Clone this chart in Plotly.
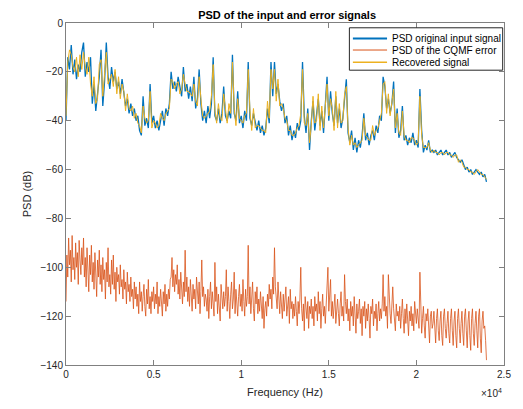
import numpy as np
import plotly.graph_objects as go

# ---------------- data ----------------
freq_in = np.linspace(0, 24000, 241)     # 100 Hz grid
freq_err = np.linspace(0, 24000, 481)    # 50 Hz grid

psd_input = [
    -40, -14, -19, -9, -21, -15, -23, -17, -20, -12,
    -8, -22, -16, -20, -14, -33, -25, -36, -29, -22,
    -11, -34, -24, -8, -22, -27, -18, -24, -20, -27,
    -24, -29, -23, -30, -34, -31, -37, -33, -38, -35,
    -40, -38, -44, -46, -30, -42, -39, -43, -25, -41,
    -38, -43, -40, -44, -39, -36, -42, -35, -38, -33,
    -20, -27, -24, -28, -22, -26, -30, -18, -28, -25,
    -31, -26, -32, -22, -35, -31, -19, -33, -40, -36,
    -41, -34, -39, -33, -14, -38, -40, -35, -41, -37,
    -26, -38, -40, -36, -39, -13, -37, -40, -28, -41,
    -38, -43, -36, -40, -16, -39, -42, -37, -41, -44,
    -40, -45, -42, -46, -43, -35, -41, -16, -30, -16,
    -29, -25, -32, -36, -33, -41, -38, -46, -42, -48,
    -44, -47, -41, -44, -40, -16, -38, -45, -35, -52,
    -40, -32, -44, -38, -31, -42, -36, -45, -33, -22,
    -40, -28, -37, -42, -30, -41, -35, -43, -39, -31,
    -23, -45, -49, -44, -52, -47, -53, -48, -51, -46,
    -37, -48, -45, -50, -46, -44, -48, -42, -45, -38,
    -40, -22, -26, -35, -31, -37, -33, -24, -45, -35,
    -47, -44, -34, -48, -46, -50, -47, -49, -45, -50,
    -48, -51, -27, -44, -53, -50, -52, -48, -53, -52,
    -53, -52, -54, -53, -52, -54, -53, -52, -54, -53,
    -55, -54, -53, -55, -56, -57, -56, -58, -60, -59,
    -61, -60, -62, -61, -60, -61, -62, -61, -63, -62,
    -65,
]

psd_recovered = [
    -38, -16, -11, -13, -18, -20, -14, -22, -13, -19,
    -12, -18, -21, -14, -25, -30, -22, -33, -31, -17,
    -15, -30, -21, -12, -25, -23, -21, -26, -19, -29,
    -22, -31, -25, -28, -36, -29, -35, -36, -34, -39,
    -37, -41, -42, -45, -34, -39, -41, -40, -28, -43,
    -40, -41, -43, -42, -37, -39, -40, -37, -36, -35,
    -23, -24, -27, -25, -24, -29, -27, -21, -25, -28,
    -28, -29, -30, -25, -32, -34, -22, -31, -38, -39,
    -38, -37, -36, -30, -17, -36, -41, -33, -39, -40,
    -29, -35, -41, -33, -37, -16, -35, -42, -31, -39,
    -40, -41, -38, -37, -19, -36, -44, -35, -43, -42,
    -42, -43, -44, -44, -45, -32, -39, -19, -27, -19,
    -32, -23, -34, -33, -35, -39, -40, -44, -44, -46,
    -46, -45, -43, -42, -37, -19, -41, -42, -37, -49,
    -42, -30, -41, -40, -29, -44, -34, -43, -35, -25,
    -38, -31, -35, -44, -28, -43, -33, -41, -40, -29,
    -26, -43, -50, -46, -50, -49, -51, -50, -49, -48,
    -39, -46, -47, -48, -48, -42, -46, -44, -43, -40,
    -37, -25, -24, -37, -29, -38, -31, -27, -43, -37,
    -45, -46, -36, -46, -48, -48, -49, -47, -47, -48,
    -50, -49, -30, -46, -51, -51, -51, -49, -52, -53,
    -52, -53, -53, -54, -53, -53, -54, -53, -53, -54,
    -54, -55, -54, -54, -57, -56, -57, -59, -59, -60,
    -60, -61, -61, -62, -61, -60, -61, -62, -62, -63,
    -64,
]

psd_error = [
    -114, -95, -104, -88, -99, -93, -106, -87, -101, -96, -105, -90, -100, -94, -107, -89, -97, -103, -92, -99,
    -88, -104, -96, -108, -92, -100, -110, -95, -103, -91, -106, -98, -109, -94, -102, -112, -97, -104, -93, -107,
    -99, -110, -96, -105, -101, -113, -98, -106, -92, -108, -103, -111, -97, -107, -95, -109, -102, -114, -100, -106,
    -103, -111, -99, -108, -105, -113, -101, -109, -106, -115, -102, -110, -107, -114, -104, -112, -109, -117, -106, -113,
    -108, -116, -111, -119, -106, -114, -110, -118, -112, -107, -116, -120, -109, -115, -105, -117, -112, -119, -110, -114,
    -108, -117, -111, -115, -106, -119, -112, -116, -109, -114, -120, -110, -115, -107, -118, -111, -116, -109, -113, -105,
    -104, -96, -108, -101, -110, -103, -107, -99, -111, -105, -113, -102, -109, -115, -106, -112, -93, -110, -104, -114,
    -108, -116, -105, -112, -118, -107, -113, -109, -117, -104, -111, -115, -106, -119, -110, -97, -112, -108, -116, -111,
    -113, -118, -109, -121, -112, -106, -117, -110, -115, -120, -98, -114, -108, -119, -111, -116, -122, -107, -113, -117,
    -110, -116, -112, -101, -118, -108, -114, -121, -111, -106, -117, -113, -102, -119, -109, -115, -120, -112, -107, -116,
    -111, -118, -105, -114, -120, -109, -116, -112, -91, -115, -108, -119, -113, -106, -117, -122, -110, -115, -108, -119,
    -113, -118, -110, -116, -121, -112, -125, -117, -114, -120, -111, -116, -107, -113, -109, -117, -104, -111, -92, -108,
    -112, -117, -106, -114, -119, -110, -116, -121, -111, -118, -113, -108, -120, -115, -112, -123, -109, -117, -114, -121,
    -115, -120, -112, -118, -124, -114, -119, -113, -100, -117, -122, -115, -126, -112, -118, -121, -114, -125, -116, -119,
    -113, -121, -116, -124, -112, -118, -115, -122, -110, -119, -114, -125, -117, -111, -120, -116, -123, -113, -108, -100,
    -118, -112, -105, -120, -114, -121, -116, -111, -123, -117, -113, -119, -124, -115, -110, -120, -116, -122, -103, -114,
    -119, -113, -122, -117, -126, -114, -120, -116, -124, -112, -119, -127, -115, -121, -118, -113, -123, -117, -128, -116,
    -120, -114, -125, -117, -122, -115, -121, -129, -116, -119, -113, -124, -118, -121, -115, -126, -119, -114, -122, -117,
    -121, -115, -103, -118, -112, -120, -116, -125, -103, -114, -119, -123, -113, -108, -117, -121, -126, -115, -120, -118,
    -122, -116, -125, -119, -113, -121, -127, -117, -123, -115, -120, -128, -118, -122, -116, -124, -119, -126, -114, -121,
    -123, -117, -120, -125, -102, -118, -127, -121, -116, -124, -129, -119, -122, -117, -126, -131, -120, -118, -125, -123,
    -118, -127, -131, -121, -117, -126, -130, -122, -118, -128, -132, -120, -117, -125, -129, -123, -118, -127, -131, -121,
    -117, -126, -132, -122, -118, -128, -133, -121, -117, -125, -131, -123, -118, -127, -132, -120, -117, -126, -133, -122,
    -118, -128, -134, -121, -117, -127, -132, -123, -118, -126, -133, -120, -117, -129, -135, -122, -118, -125, -124, -130,
    -138,
]

x_tick_vals = [0, 5000, 10000, 15000, 20000, 25000]
x_tick_text = ["0", "0.5", "1", "1.5", "2", "2.5"]
y_tick_vals = [0, -20, -40, -60, -80, -100, -120, -140]

series_names = ["PSD original input signal", "PSD of the CQMF error", "Recovered signal"]

# ---------------- figure ----------------
BLUE = "#0072BD"
ORANGE = "#D95319"
YELLOW = "#EDB120"
AX = "#808080"
TXT = "#262626"
FONT = "Liberation Sans, Arial, sans-serif"

fig = go.Figure()
fig.add_trace(go.Scatter(x=freq_in, y=psd_input, mode="lines", name=series_names[0],
                         line=dict(color=BLUE, width=1.3), showlegend=False))
fig.add_trace(go.Scatter(x=freq_err, y=psd_error, mode="lines", name=series_names[1],
                         line=dict(color=ORANGE, width=0.8), showlegend=False))
fig.add_trace(go.Scatter(x=freq_in, y=psd_recovered, mode="lines", name=series_names[2],
                         line=dict(color=YELLOW, width=1.0), showlegend=False))

axis_common = dict(
    showgrid=False, zeroline=False, showline=True, linecolor=AX, linewidth=1,
    mirror="ticks", ticks="inside", ticklen=5, tickcolor=AX, tickwidth=1,
    tickfont=dict(family=FONT, size=10, color=TXT),
)

fig.update_layout(
    width=523, height=409,
    margin=dict(l=66, r=15, t=23, b=38),
    paper_bgcolor="white", plot_bgcolor="white",
    font=dict(family=FONT, color=TXT),
    title=dict(text="<b>PSD of the input and error signals</b>", x=0.549, xanchor="center",
               y=0.963, yanchor="middle", font=dict(family=FONT, size=11, color="black")),
    xaxis=dict(range=[0, 25000], tickvals=x_tick_vals, ticktext=x_tick_text,
               title=dict(text="Frequency (Hz)", font=dict(family=FONT, size=11, color=TXT), standoff=9),
               **axis_common),
    yaxis=dict(range=[-140, 0], tickvals=y_tick_vals,
               title=dict(text="PSD (dB)", font=dict(family=FONT, size=11, color=TXT), standoff=6),
               **axis_common),
    showlegend=False,
)

# ---- MATLAB-style legend box (drawn in paper coordinates) ----
leg_x0, leg_x1 = 0.647, 0.997
leg_y0, leg_y1 = 0.862, 0.986
fig.add_shape(type="rect", xref="paper", yref="paper", x0=leg_x0, x1=leg_x1, y0=leg_y0, y1=leg_y1,
              line=dict(color=TXT, width=1), fillcolor="white", layer="above")
leg_rows = [0.955, 0.921, 0.885]
leg_colors = [BLUE, ORANGE, YELLOW]
leg_widths = [2.0, 1.0, 1.5]
for name, yy, col, w in zip(series_names, leg_rows, leg_colors, leg_widths):
    fig.add_shape(type="line", xref="paper", yref="paper", x0=0.655, x1=0.733, y0=yy, y1=yy,
                  line=dict(color=col, width=w), layer="above")
    fig.add_annotation(text=name, xref="paper", yref="paper", x=0.740, y=yy,
                       xanchor="left", yanchor="middle", showarrow=False,
                       font=dict(family=FONT, size=10, color="black"))

fig.add_annotation(text="×10<sup>4</sup>", xref="paper", yref="paper", x=1.0, y=-0.082,
                   xanchor="right", yanchor="middle", showarrow=False,
                   font=dict(family=FONT, size=10, color=TXT))

fig.write_html("out.html")
